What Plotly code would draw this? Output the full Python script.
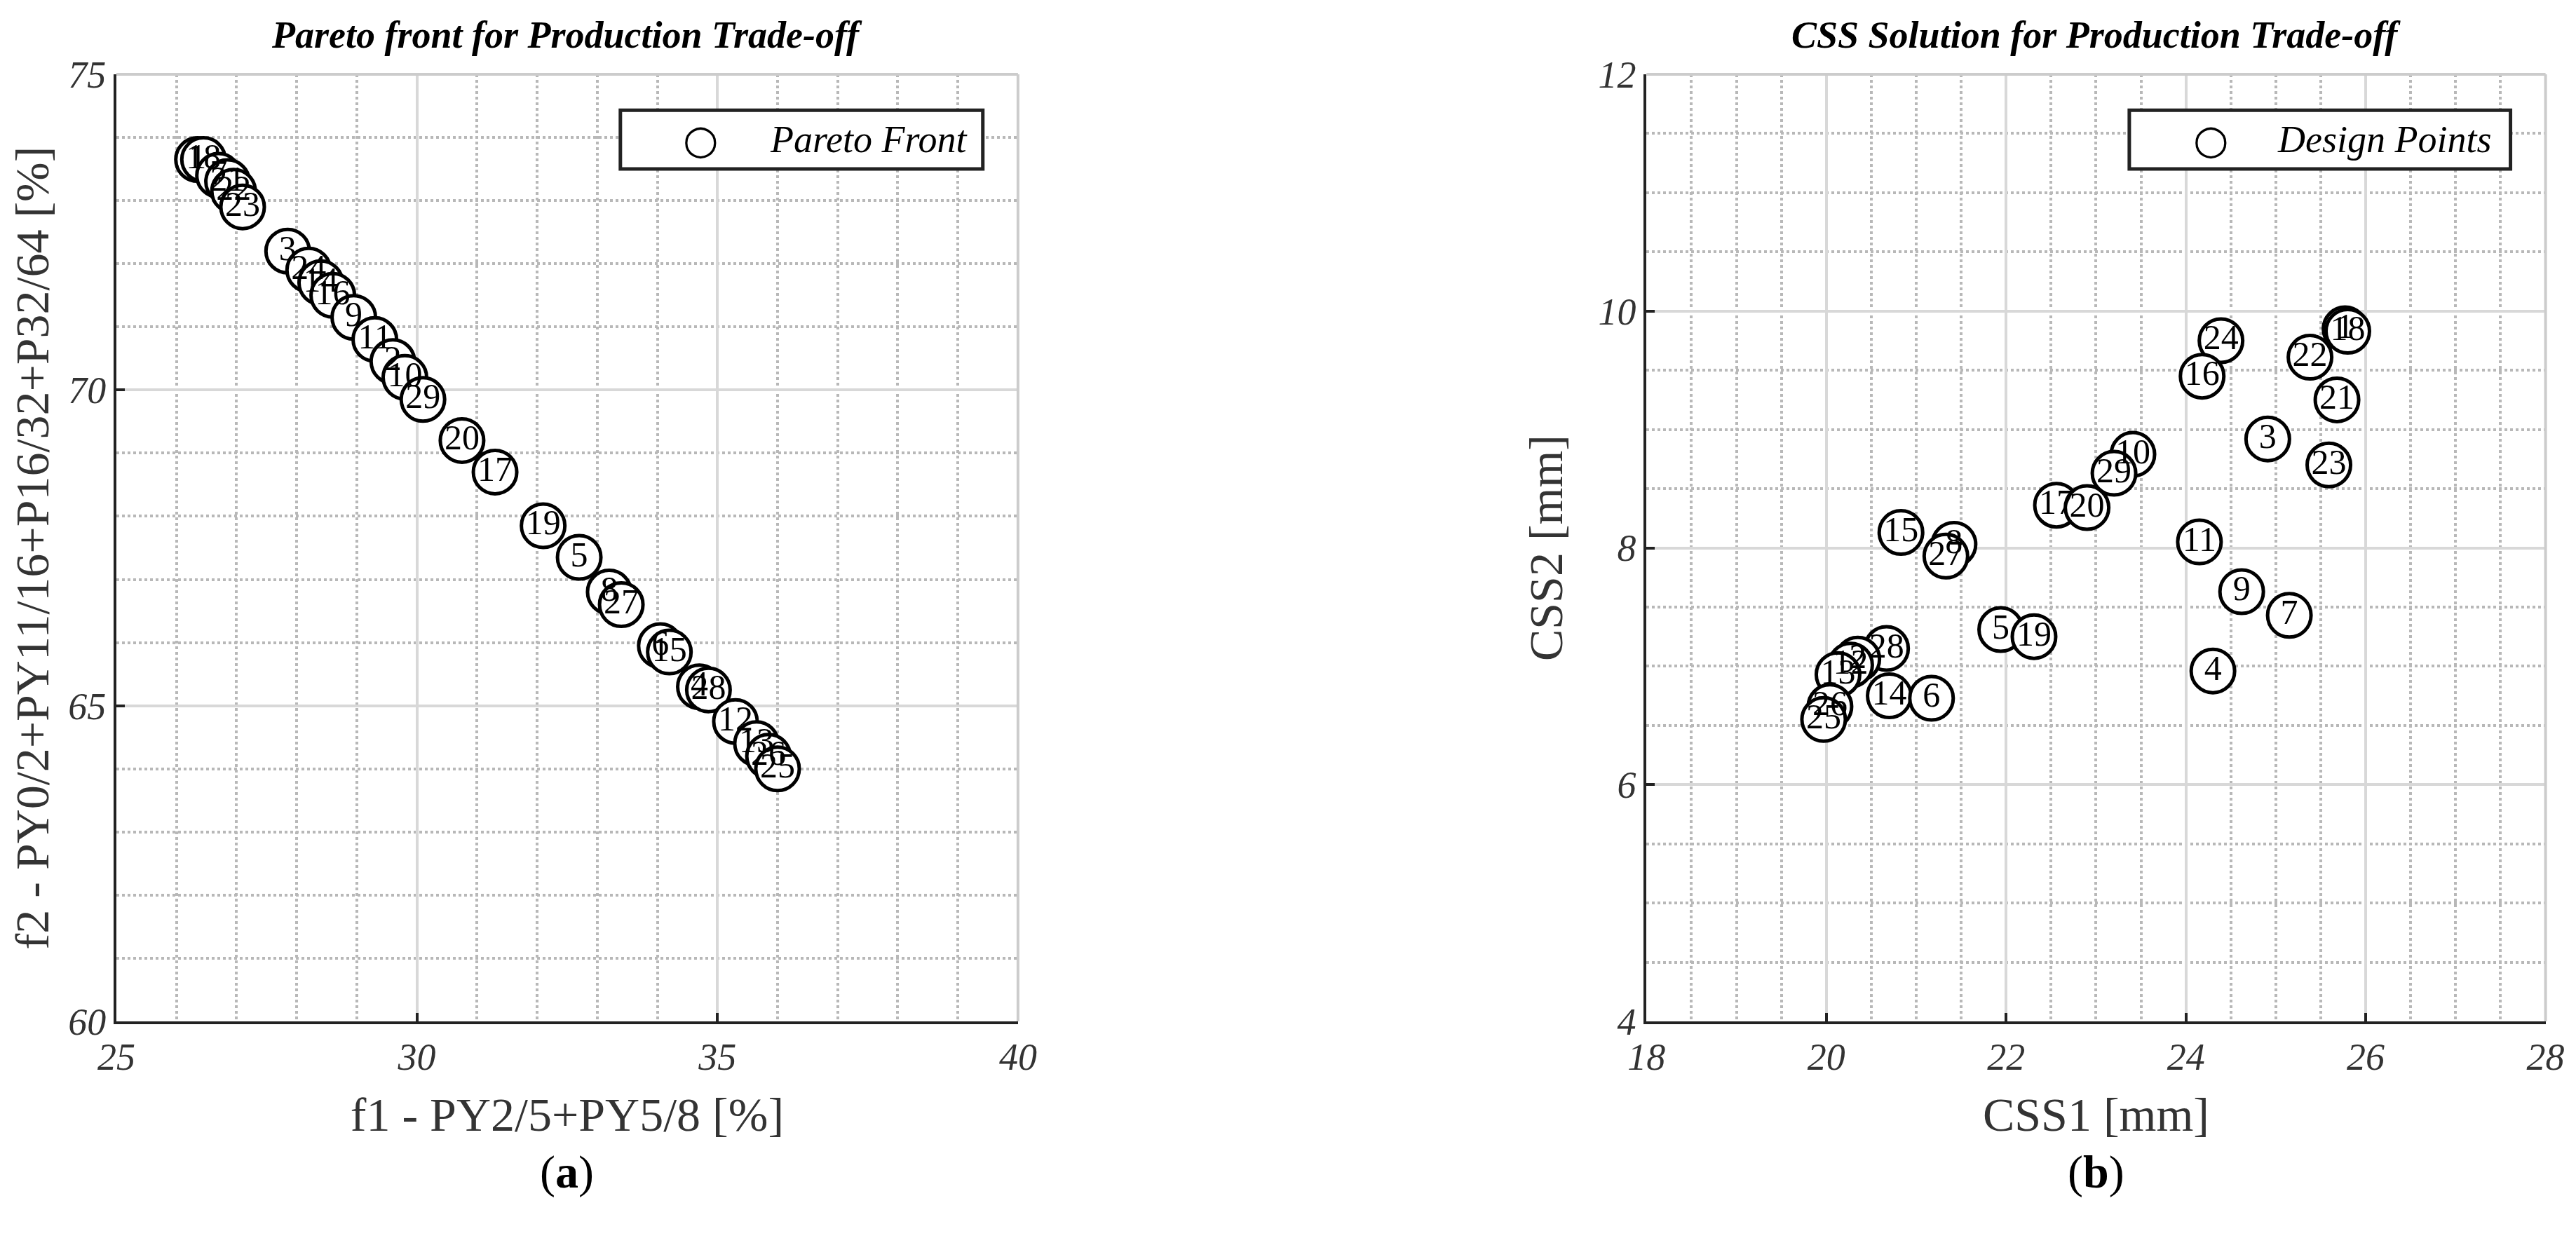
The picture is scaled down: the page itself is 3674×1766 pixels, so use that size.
import plotly.graph_objects as go
from plotly.subplots import make_subplots

# Pareto front (a): design label, f1 [%], f2 [%]
pareto_ids = [1, 18, 7, 21, 22, 23, 3, 24, 14, 16, 9, 11, 2, 10, 29, 20, 17,
              19, 5, 8, 27, 6, 15, 4, 28, 12, 13, 26, 25]
pareto_f1 = [26.35, 26.45, 26.7, 26.85, 26.95, 27.1, 27.85, 28.2, 28.4, 28.6,
             28.95, 29.3, 29.6, 29.8, 30.1, 30.75, 31.3, 32.1, 32.7, 33.2,
             33.4, 34.05, 34.2, 34.7, 34.85, 35.3, 35.65, 35.85, 36.0]
pareto_f2 = [73.65, 73.65, 73.4, 73.3, 73.15, 72.9, 72.2, 71.9, 71.7, 71.5,
             71.15, 70.8, 70.45, 70.2, 69.85, 69.2, 68.7, 67.85, 67.35, 66.8,
             66.6, 65.95, 65.85, 65.3, 65.25, 64.75, 64.4, 64.2, 64.0]

# CSS solution (b): design label, CSS1 [mm], CSS2 [mm]
css_ids = [1, 18, 22, 21, 3, 23, 24, 16, 10, 29, 17, 20, 15, 8, 27, 11, 9, 7,
           5, 19, 4, 28, 2, 12, 13, 14, 6, 26, 25]
css1 = [25.77, 25.8, 25.38, 25.68, 24.91, 25.59, 24.39, 24.18, 23.41, 23.2,
        22.56, 22.9, 20.83, 21.42, 21.33, 24.15, 24.62, 25.15, 21.94, 22.31,
        24.3, 20.67, 20.35, 20.27, 20.13, 20.7, 21.17, 20.04, 19.97]
css2 = [9.85, 9.83, 9.61, 9.25, 8.92, 8.7, 9.75, 9.45, 8.79, 8.63, 8.36, 8.34,
        8.13, 8.03, 7.93, 8.05, 7.63, 7.43, 7.31, 7.25, 6.96, 7.15, 7.06, 7.01,
        6.93, 6.75, 6.73, 6.66, 6.55]

SERIF = "Liberation Serif"

fig = make_subplots(rows=1, cols=2, horizontal_spacing=0.2)


def add_points(x, y, ids, name, col):
    fig.add_trace(go.Scatter(
        x=x, y=y, mode='markers+text', name=name,
        text=[str(i) for i in ids], textposition='middle center',
        textfont=dict(family=SERIF, size=50, color='black'),
        marker=dict(symbol='circle', size=62, color='white',
                    line=dict(color='black', width=5)),
        cliponaxis=False,
    ), row=1, col=col)


add_points(pareto_f1, pareto_f2, pareto_ids, 'Pareto Front', 1)
add_points(css1, css2, css_ids, 'Design Points', 2)

axis_style = dict(
    showline=True, linecolor='#222', linewidth=4, automargin=False,
    ticks='inside', ticklen=12, tickwidth=4, tickcolor='#222',
    showgrid=True, gridcolor='#d8d8d8', gridwidth=4,
    zeroline=False,
    tickfont=dict(family=SERIF, size=54, color='#333', style='italic'),
    title_font=dict(family=SERIF, size=68, color='#333'),
)
minor_style = dict(showgrid=True, griddash='dot', gridcolor='#b8b8b8',
                   gridwidth=4)

fig.update_xaxes(axis_style)
fig.update_yaxes(axis_style)

fig.update_xaxes(range=[25, 40], dtick=5, domain=[0.043, 0.393],
                 title_text='f1 - PY2/5+PY5/8 [%]', title_standoff=30,
                 minor=dict(dtick=1, **minor_style), row=1, col=1)
fig.update_yaxes(range=[60, 75], dtick=5, domain=[0.1795, 0.9445],
                 title_text='f2 - PY0/2+PY11/16+P16/32+P32/64 [%]',
                 title_standoff=30,
                 minor=dict(dtick=1, **minor_style), row=1, col=1)
fig.update_xaxes(range=[18, 28], dtick=2, domain=[0.637, 0.986],
                 title_text='CSS1 [mm]', title_standoff=30,
                 minor=dict(dtick=0.5, **minor_style), row=1, col=2)
fig.update_yaxes(range=[4, 12], dtick=2, domain=[0.1795, 0.9445],
                 title_text='CSS2 [mm]', title_standoff=30,
                 minor=dict(dtick=0.5, **minor_style), row=1, col=2)

# light top/right frame
for xr, yr in [('x', 'y'), ('x2', 'y2')]:
    fig.add_shape(type='line', xref=f'{xr} domain', yref=f'{yr} domain',
                  x0=0, x1=1, y0=1, y1=1, line=dict(color='#cccccc', width=4))
    fig.add_shape(type='line', xref=f'{xr} domain', yref=f'{yr} domain',
                  x0=1, x1=1, y0=0, y1=1, line=dict(color='#cccccc', width=4))

# legend boxes: (xref, label, box left, box right, marker x, text right)
legends = [('x', 'Pareto Front', 0.559, 0.961, 0.648, 0.946),
           ('x2', 'Design Points', 0.537, 0.961, 0.628, 0.942)]
y_lo, y_hi = 0.1795, 0.9445
box_bot = y_lo + 0.900 * (y_hi - y_lo)
box_top = y_lo + 0.962 * (y_hi - y_lo)
box_mid = (box_bot + box_top) / 2
for xr, label, x0, x1, xm, xt in legends:
    fig.add_shape(type='rect', xref=f'{xr} domain', yref='paper',
                  x0=x0, x1=x1, y0=box_bot, y1=box_top,
                  line=dict(color='#222', width=5), fillcolor='white')
    fig.add_annotation(xref=f'{xr} domain', yref='paper',
                       x=xm, y=box_mid, yanchor='middle',
                       text='○', showarrow=False,
                       font=dict(family='DejaVu Sans', size=58, color='black'))
    fig.add_annotation(xref=f'{xr} domain', yref='paper',
                       x=xt, y=box_mid, xanchor='right', yanchor='middle',
                       text=f'<i>{label}</i>', showarrow=False,
                       font=dict(family=SERIF, size=54, color='black'))

# titles
fig.add_annotation(xref='x domain', yref='paper', x=0.5, y=0.976,
                   yanchor='middle',
                   text='<b><i>Pareto front for Production Trade-off</i></b>',
                   showarrow=False,
                   font=dict(family=SERIF, size=54, color='black'))
fig.add_annotation(xref='x2 domain', yref='paper', x=0.5, y=0.976,
                   yanchor='middle',
                   text='<b><i>CSS Solution for Production Trade-off</i></b>',
                   showarrow=False,
                   font=dict(family=SERIF, size=54, color='black'))

# panel letters
fig.add_annotation(xref='x domain', yref='paper', x=0.5, y=0.058,
                   yanchor='middle', text='(<b>a</b>)', showarrow=False,
                   font=dict(family=SERIF, size=66, color='black'))
fig.add_annotation(xref='x2 domain', yref='paper', x=0.5, y=0.058,
                   yanchor='middle', text='(<b>b</b>)', showarrow=False,
                   font=dict(family=SERIF, size=66, color='black'))

fig.update_layout(
    width=3674, height=1766,
    margin=dict(l=0, r=0, t=0, b=0),
    plot_bgcolor='white', paper_bgcolor='white',
    showlegend=False,
)

fig.write_html("out.html")
